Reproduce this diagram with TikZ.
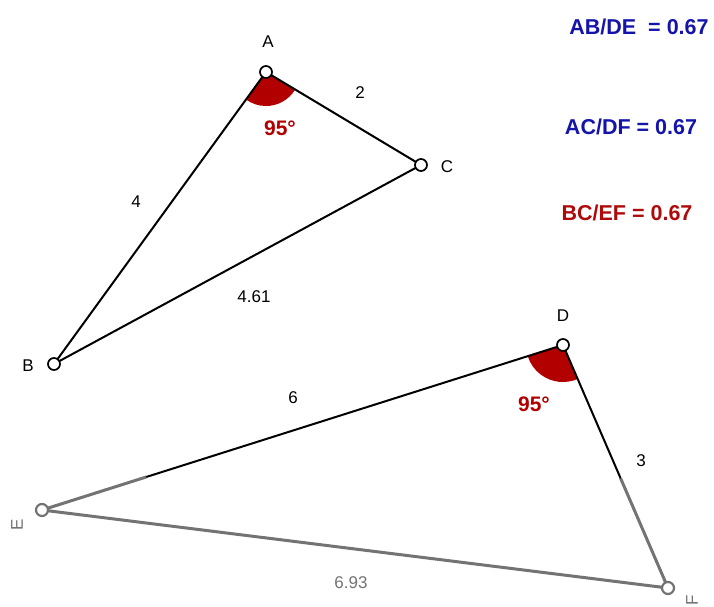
\documentclass[tikz,border=0pt]{standalone}
\usepackage{fontspec}
\usetikzlibrary{calc}
\setmainfont{Liberation Sans}
\definecolor{ratioblue}{RGB}{20,20,170}
\definecolor{ratiored}{RGB}{175,10,10}
\definecolor{sector}{RGB}{178,0,0}
\definecolor{fadeline}{RGB}{115,115,115}
\tikzset{
  pt/.style={circle,draw=black,fill=white,line width=1.7pt,inner sep=0pt,minimum size=12pt},
  ptfade/.style={circle,draw=fadeline,fill=white,line width=2.2pt,inner sep=0pt,minimum size=12pt},
  seg/.style={line width=2pt,black},
  segfade/.style={line width=3pt,fadeline},
  vlab/.style={font=\fontsize{17}{17}\selectfont},
  elab/.style={font=\fontsize{17}{17}\selectfont},
  anglab/.style={font=\bfseries\fontsize{21}{21}\selectfont,text=sector},
  ratio/.style={font=\bfseries\fontsize{21.5}{21.5}\selectfont,anchor=center},
}
\begin{document}
\begin{tikzpicture}[x=1pt,y=-1pt]
\useasboundingbox (0,0) rectangle (714,607);
% vertex coordinates
\coordinate (A) at (266,72);
\coordinate (B) at (54,364);
\coordinate (C) at (421,165);
\coordinate (D) at (563,345);
\coordinate (E) at (42,510);
\coordinate (F) at (668,588);
\coordinate (EDm) at ($(E)!0.2!(D)$);
\coordinate (DFm) at ($(D)!0.55!(F)$);
% angle sectors
\fill[sector] (A) -- ++(31:34) arc[start angle=31,end angle=126,radius=34] -- cycle;
\fill[sector] (D) -- ++(66.6:37) arc[start angle=66.6,end angle=162.4,radius=37] -- cycle;
% triangle ABC
\draw[seg] (A) -- (B);
\draw[seg] (A) -- (C);
\draw[seg] (B) -- (C);
% triangle DEF
\draw[segfade] (E) -- (EDm);
\draw[seg] (EDm) -- (D);
\draw[seg] (D) -- (DFm);
\draw[segfade] (DFm) -- (F);
\draw[segfade] (E) -- (F);
% points
\node[pt] (pA) at (A) {};
\node[pt] (pB) at (B) {};
\node[pt] (pC) at (C) {};
\node[pt] (pD) at (D) {};
\node[ptfade] (pE) at (E) {};
\node[ptfade] (pF) at (F) {};
% vertex labels
\node[vlab] (lA) at (268,42) {A};
\node[vlab] (lB) at (28,366) {B};
\node[vlab] (lC) at (447,167) {C};
\node[vlab] (lD) at (563,316) {D};
\node[vlab,text=fadeline,rotate=90] (lE) at (17,525) {E};
\node[vlab,text=fadeline,rotate=90] (lF) at (692,600) {F};
% edge labels
\node[elab] (l2) at (360,93) {2};
\node[elab] (l4) at (136,202) {4};
\node[elab] (l461) at (254,297) {4.61};
\node[elab] (l6) at (293,398) {6};
\node[elab] (l3) at (641,461) {3};
\node[elab,text=fadeline] (l693) at (351,583) {6.93};
% angle labels
\node[anglab] (angA) at (280,128) {95°};
\node[anglab] (angD) at (534,404) {95°};
% ratios
\node[ratio,text=ratioblue] (r1) at (639,27) {AB/DE\ \ = 0.67};
\node[ratio,text=ratioblue] (r2) at (631,127) {AC/DF = 0.67};
\node[ratio,text=ratiored] (r3) at (627,213) {BC/EF = 0.67};
\end{tikzpicture}
\end{document}
